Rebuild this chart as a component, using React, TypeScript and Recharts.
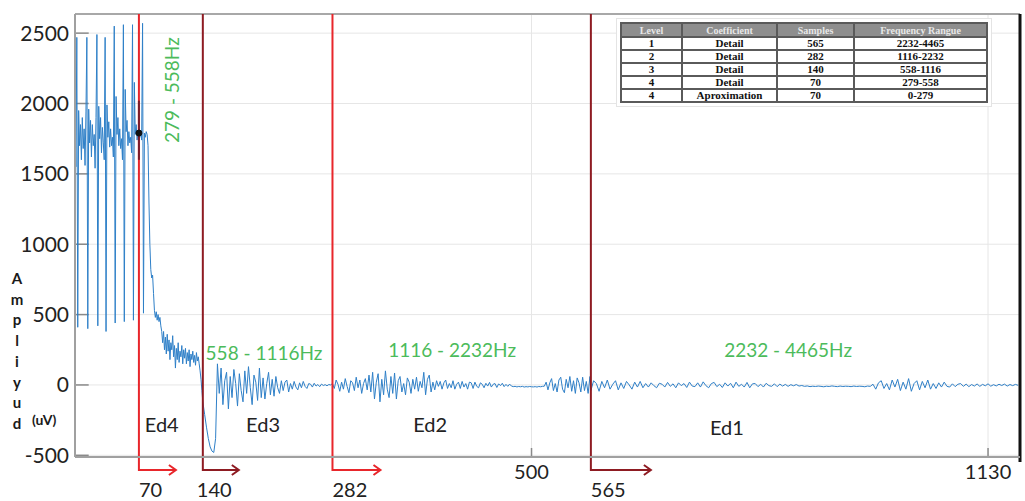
import {
  LineChart,
  Line,
  XAxis,
  YAxis,
  CartesianGrid,
  ReferenceLine,
  ReferenceDot,
} from "recharts";

// Samples 0..139, one per sample (A4 band with its spikes and the fall-off)
const a4Values = [
  1900, 1550, 2470, 410, 1950, 1700, 1850, 1600, 1900, 1680,
  1820, 1560, 1940, 2470, 400, 1960, 1720, 1880, 1620, 1850,
  1700, 1780, 1540, 1900, 2490, 420, 1980, 1750, 1900, 1650,
  1830, 1720, 1600, 2470, 380, 1990, 1760, 1870, 1690, 1820,
  1700, 1760, 1620, 2550, 440, 2050, 1780, 1900, 1700, 1820,
  1680, 1750, 1600, 2560, 450, 2100, 1800, 1880, 1700, 1800,
  1720, 1760, 1650, 2560, 460, 2150, 1780, 1850, 1740, 1790,
  1790, 1760, 1800, 1740, 2570, 510, 1790, 1760, 1800, 1780,
  1700, 1300, 1000, 820, 760, 780, 650, 530, 480, 520,
  460, 500, 450, 480, 420, 380, 300, 380, 250, 340,
  220, 360, 240, 320, 180, 300, 250, 350, 200, 280,
  120, 260, 180, 300, 160, 240, 200, 280, 150, 250,
  190, 260, 150, 230, 170, 250, 130, 220, 180, 240,
  160, 210, 140, 230, 170, 200, 150, 100, 40, -40,
];

// Samples 140..280, every 2nd sample (Ed3)
const d3Start = 140;
const d3Step = 2;
const d3Values = [
  -120, -210, -300, -380, -440, -470, -480, -380,
  150, -60, 120, -140, 30, 90, -170, 60, -90, 110,
  10, -150, 80, -40, -120, 100, -60, 130, -20, -140,
  70, 20, -110, 120, -90, 50, -100, 10, 90, -70, 40,
  -80, 60, -20, -60, 30, -40, 20, 35, -50, 10,
  -30, 25, -15, -35, 15, -20, 25, -10, -25, 10,
  5, -15, 12, -8, 3, -12, 6, -4, 2, -6, 3, 0,
];

// Samples 282..564, every 2nd sample (Ed2)
const d2Start = 282;
const d2Step = 2;
const d2Values = [
  10, -25, 35, 5, -45, 20, -30, 45, -10, -55,
  30, 15, -40, 55, -20, 35, -60, 10, 45, -35,
  70, -50, 90, -100, 20, 80, -120, 40, -70, 100,
  -30, -90, 60, -60, 85,
  -100, 30, 60, -50, 10, -70, 50, 20, -60, 40,
  -30, 55, -45, 25, -20,
  90, -70, 40, 70, -50, 20,
  -35, 30, -10, 25, -30, 15, 35, -25, 10, -20,
  30, -30, 5, 20, -25, 25, -15, 10, -30, 20,
  15, -25, 20, -10, -20, 15, 5, -20, 12, -8,
  18, -15, 5, 10, -18, 8, -5, 12, -12, 4,
  -10, 6,
  -8, -12, -10, -14, -11, -13, -10, -15, -12, -14,
  -11, -13, -14, -12, -15, -11, -13, -10, -9,
  20, -35, 15, 45, -40, 10, -50, 35, 55, -30,
  -55, 40, -20, 60, -45, 30, -60, 50, 15, -50,
  55, -40, 25, -60, 60,
];

// Samples 565..1033, every 3rd sample (Ed1)
const d1Start = 565;
const d1Step = 3;
const d1Values = [
  -40, 30, 10, -45, 25, -20, 35, -30, 5, 30,
  -35, 15, -25, 25, 0, -30, 20, -15, 25, -20,
  10, -15, 15, -5, -20, 12, 5, -15, 18, -10,
  8, -20, 15, -5, 10, -18, 20, -8, -12, 15,
  -15, 22, -5, -20, 10, 18, -12, 5, -18, 15,
  -8, 12, -20, 20, -10, 5, -15, 18, -20, 8,
  10, -12, 5, -15, 12, -5, -10, 8, -12, 6,
  -8, 4, -10, 2, -6, 3, -8, -4,
  -10, -7, -12, -9, -11, -8, -10, -13, -9, -11,
  -7, -10, -12, -8, -11, -9, -10, -12, -8, -11,
  -9, -10, -13, -8, -10, 5,
  -30, 15, 30, -25, 10, -35, 35, -15, 40, -40,
  20, -30, 45, -45, 10, 30, -35, 25, -20, 35,
  -30, 10, -25, 15, -15, 20, -10,
  -15, 8, -12, 5, 10, -10, 6, -12, 3, -8,
  7, -10, 4, -6, 8, -9, 2, -7, 5, -4,
  6, -8, 3, -5, 4, -3,
];

const yTicks = [-500, 0, 500, 1000, 1500, 2000, 2500];
const xTicks = [500, 1000];
const xTickLabels = ["500", "1130"];

const boundaries = [70, 140, 282, 565];
const boundaryLabels = ["70", "140", "282", "565"];

const bandLabels = ["279 - 558Hz", "558 - 1116Hz", "1116 - 2232Hz", "2232 - 4465Hz"];
const bandLabelAt = [
  { x: 106, y: 2095 },
  { x: 207, y: 234 },
  { x: 413, y: 249 },
  { x: 781, y: 249 },
];

const edLabels = ["Ed4", "Ed3", "Ed2", "Ed1"];
const edLabelAt = [
  { x: 95, y: -277 },
  { x: 206, y: -277 },
  { x: 389, y: -277 },
  { x: 714, y: -300 },
];

const yLabelLetters = ["A", "m", "p", "l", "i", "y", "u", "d"];

const tableHeader = ["Level", "Coefficient", "Samples", "Frequency Rangue"];
const tableLevels = ["1", "2", "3", "4", "4"];
const tableCoefficients = ["Detail", "Detail", "Detail", "Detail", "Aproximation"];
const tableSamples = ["565", "282", "140", "70", "70"];
const tableRanges = ["2232-4465", "1116-2232", "558-1116", "279-558", "0-279"];

const X_MAX = 1035;
const Y_MIN = -512;
const Y_MAX = 2636;

const RED = "#e8262b";
const DARK_RED = "#8e1b22";
const GREEN = "#4cbb5b";
const FONT = "Lato, 'Open Sans', sans-serif";

const boundaryColors = [RED, DARK_RED, RED, DARK_RED];
const arrowLengths = [37, 36, 48, 60];

function buildData() {
  const rows: { x: number; y: number }[] = [];
  a4Values.forEach((y, i) => rows.push({ x: i, y }));
  d3Values.forEach((y, i) => rows.push({ x: d3Start + i * d3Step, y }));
  d2Values.forEach((y, i) => rows.push({ x: d2Start + i * d2Step, y }));
  d1Values.forEach((y, i) => rows.push({ x: d1Start + i * d1Step, y }));
  return rows;
}

const data = buildData();

// vertical boundary line that drops below the axis and turns into an arrow
function renderArrow(p: any, color: string, text: string, len: number) {
  const { x1, y1, y2 } = p;
  const yb = y2 + 13;
  const xe = x1 + len;
  return (
    <g>
      <path
        d={`M${x1},${y1} L${x1},${yb} L${xe},${yb}`}
        fill="none"
        stroke={color}
        strokeWidth={2}
      />
      <path
        d={`M${xe - 7},${yb - 5} L${xe},${yb} L${xe - 7},${yb + 5}`}
        fill="none"
        stroke={color}
        strokeWidth={2}
      />
      <text
        x={text === "140" ? x1 - 6 : x1}
        y={yb + 27}
        fontSize={20}
        fontFamily={FONT}
        fill="#222"
      >
        {text}
      </text>
    </g>
  );
}

function YLabel(props: any) {
  const vb = props.viewBox || { x: 10, y: 14, height: 443 };
  const top = vb.y + 270;
  return (
    <g fontFamily={FONT} fontWeight="bold" fill="#1a1a1a">
      {yLabelLetters.map((c, i) => (
        <text key={c + i} x={vb.x + 7} y={top + i * 20.7} fontSize={15} textAnchor="middle">
          {c}
        </text>
      ))}
      <text x={vb.x + 22} y={top + 7 * 20.7 - 4} fontSize={14}>
        (uV)
      </text>
    </g>
  );
}

const cell: React.CSSProperties = {
  border: "2px solid #5a5a5a",
  padding: 0,
  height: 11,
  lineHeight: "11px",
  textAlign: "center",
};

export default function App() {
  return (
    <div
      style={{
        position: "absolute",
        left: 0,
        top: 0,
        width: 1025,
        height: 501,
        background: "#fff",
        overflow: "hidden",
      }}
    >
      <LineChart
        width={1025}
        height={501}
        data={data}
        margin={{ top: 14, right: 5, bottom: 14, left: 10 }}
      >
        <CartesianGrid stroke="#e6e6e6" verticalValues={xTicks} horizontalValues={yTicks} />
        <XAxis
          type="number"
          dataKey="x"
          domain={[0, X_MAX]}
          ticks={xTicks}
          tickFormatter={(v: number) => xTickLabels[xTicks.indexOf(v)]}
          allowDataOverflow
          height={30}
          tickLine={false}
          tickSize={0}
          tickMargin={8}
          axisLine={{ stroke: "#a0a0a0", strokeWidth: 2 }}
          tick={{ fontSize: 20, fill: "#222", fontFamily: FONT }}
        />
        <YAxis
          type="number"
          domain={[Y_MIN, Y_MAX]}
          ticks={yTicks}
          allowDataOverflow
          width={65}
          tickLine={false}
          tickSize={0}
          tickMargin={6}
          axisLine={{ stroke: "#a0a0a0", strokeWidth: 2 }}
          tick={{ fontSize: 21, fill: "#222", fontFamily: FONT }}
          label={{ content: (p: any) => <YLabel {...p} /> }}
        />

        {/* top frame and right border */}
        <ReferenceLine y={Y_MAX} stroke="#a8a8a8" strokeWidth={2} />
        <ReferenceLine
          segment={[
            { x: X_MAX, y: Y_MAX },
            { x: X_MAX, y: Y_MIN - 35 },
          ]}
          stroke="#111"
          strokeWidth={3}
          ifOverflow="visible"
        />

        {/* inward tick marks */}
        {yTicks.map((v) => (
          <ReferenceLine
            key={`yt-${v}`}
            segment={[
              { x: 0, y: v },
              { x: 15, y: v },
            ]}
            stroke="#8a8a8a"
            strokeWidth={1.5}
          />
        ))}
        {xTicks.map((v) => (
          <ReferenceLine
            key={`xt-${v}`}
            segment={[
              { x: v, y: Y_MIN },
              { x: v, y: Y_MIN + 64 },
            ]}
            stroke="#8a8a8a"
            strokeWidth={1.5}
          />
        ))}

        <Line
          type="linear"
          dataKey="y"
          stroke="#2f80c8"
          strokeWidth={1}
          dot={false}
          isAnimationActive={false}
        />

        {boundaries.map((b, i) => (
          <ReferenceLine
            key={`b-${b}`}
            segment={[
              { x: b, y: Y_MAX },
              { x: b, y: Y_MIN },
            ]}
            ifOverflow="visible"
            shape={(p: any) => renderArrow(p, boundaryColors[i], boundaryLabels[i], arrowLengths[i])}
          />
        ))}

        <ReferenceLine
          segment={[
            { x: 70, y: 2020 },
            { x: 70, y: 1600 },
          ]}
          stroke="#7a1c2a"
          strokeWidth={2}
        />
        <ReferenceDot x={70} y={1790} r={3} fill="#111" stroke="#111" />

        {bandLabels.map((t, i) => (
          <ReferenceDot
            key={`bl-${i}`}
            x={bandLabelAt[i].x}
            y={bandLabelAt[i].y}
            r={0}
            ifOverflow="visible"
            shape={(p: any) => (
              <text
                x={p.cx}
                y={p.cy}
                fontSize={19}
                fontFamily={FONT}
                fill={GREEN}
                textAnchor="middle"
                dominantBaseline="central"
                transform={i === 0 ? `rotate(-90 ${p.cx} ${p.cy})` : undefined}
              >
                {t}
              </text>
            )}
          />
        ))}

        {edLabels.map((t, i) => (
          <ReferenceDot
            key={`ed-${i}`}
            x={edLabelAt[i].x}
            y={edLabelAt[i].y}
            r={0}
            ifOverflow="visible"
            shape={(p: any) => (
              <text
                x={p.cx}
                y={p.cy}
                fontSize={20}
                fontFamily={FONT}
                fill="#222"
                textAnchor="middle"
                dominantBaseline="central"
              >
                {t}
              </text>
            )}
          />
        ))}
      </LineChart>

      <div
        style={{
          position: "absolute",
          left: 616,
          top: 18,
          padding: 3,
          border: "1px solid #e4e4e4",
          background: "#fff",
        }}
      >
        <table
          style={{
            borderCollapse: "collapse",
            fontFamily: "'Liberation Serif', serif",
            fontWeight: "bold",
            fontSize: 11,
            color: "#111",
          }}
        >
          <colgroup>
            <col style={{ width: 61 }} />
            <col style={{ width: 95 }} />
            <col style={{ width: 77 }} />
            <col style={{ width: 133 }} />
          </colgroup>
          <thead>
            <tr style={{ background: "#8e8e8e", color: "#e8e8e8" }}>
              {tableHeader.map((h) => (
                <th key={h} style={{ ...cell, height: 12, fontSize: 10 }}>
                  {h}
                </th>
              ))}
            </tr>
          </thead>
          <tbody>
            {tableLevels.map((lv, i) => (
              <tr key={i}>
                <td style={cell}>{lv}</td>
                <td style={cell}>{tableCoefficients[i]}</td>
                <td style={cell}>{tableSamples[i]}</td>
                <td style={cell}>{tableRanges[i]}</td>
              </tr>
            ))}
          </tbody>
        </table>
      </div>
    </div>
  );
}
